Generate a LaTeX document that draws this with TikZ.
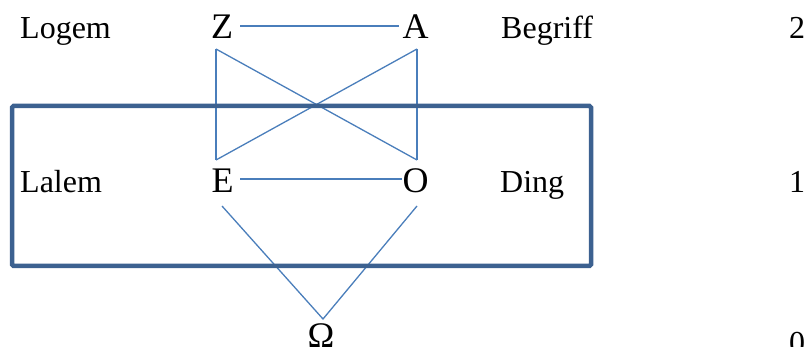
\documentclass[tikz,border=0pt]{standalone}
\usepackage{fontspec}
\setmainfont{Liberation Serif}
\definecolor{thinblue}{HTML}{4A7EBB}
\definecolor{boxblue}{HTML}{3C6190}
\begin{document}
\begin{tikzpicture}[x=1pt,y=-1pt,
  lbl/.style={anchor=base west,inner sep=0pt,font=\fontsize{32}{36}\selectfont},
  sym/.style={anchor=base,inner sep=0pt,font=\fontsize{36}{40}\selectfont},
  thin/.style={draw=thinblue,line width=1.3pt},
  thick/.style={draw=thinblue,line width=2.2pt},
  frame/.style={draw=boxblue,line width=4.5pt,rounded corners=1.5pt}]
\useasboundingbox (0,0) rectangle (804,347);
% labels
\node[lbl] (logem) at (20,39) {Logem};
\node[lbl] (begriff) at (501,39) {Begriff};
\node[lbl] (lalem) at (20,193) {Lalem};
\node[lbl] (ding) at (500,193) {Ding};
\node[lbl] (two) at (789,39) {2};
\node[lbl] (one) at (789,193) {1};
\node[lbl] (zero) at (789,354) {0};
% letters
\node[sym] (Z) at (222,39) {Z};
\node[sym] (A) at (415.5,39) {A};
\node[sym] (E) at (222.5,193) {E};
\node[sym] (O) at (415.5,193) {O};
\node[sym] (W) at (321,348) {Ω};
% connector ends
\coordinate (zr) at (240,26);
\coordinate (al) at (399,26);
\coordinate (zb) at (216,49);
\coordinate (ab) at (417,49);
\coordinate (et) at (216,160);
\coordinate (ot) at (417,160);
\coordinate (er) at (240,179);
\coordinate (ol) at (402,179);
\coordinate (eb) at (222,206);
\coordinate (ob) at (417,206);
\coordinate (wt) at (323,319);
% connectors
\draw[thick] (zr) -- (al);
\draw[thick] (er) -- (ol);
\draw[thin] (zb) -- (et);
\draw[thin] (ab) -- (ot);
\draw[thin] (zb) -- (ot);
\draw[thin] (ab) -- (et);
\draw[thin] (eb) -- (wt) -- (ob);
% frame
\coordinate (fa) at (12,106);
\coordinate (fb) at (591,266);
\draw[frame] (fa) rectangle (fb);
\end{tikzpicture}
\end{document}
